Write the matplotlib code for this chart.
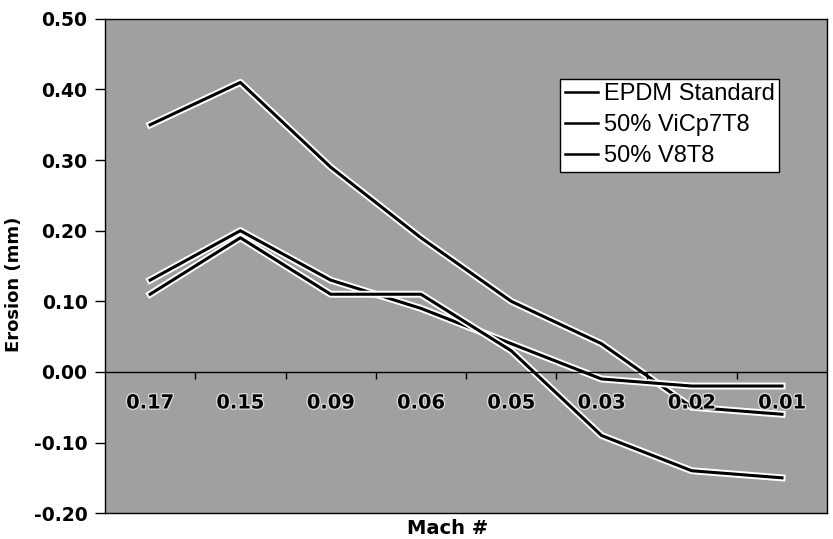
import matplotlib
matplotlib.use("Agg")
import matplotlib.pyplot as plt
import matplotlib.patheffects as pe

plt.rcParams["font.family"] = ["DejaVu Sans"]

mach = ["0.17", "0.15", "0.09", "0.06", "0.05", "0.03", "0.02", "0.01"]
epdm_standard = [0.35, 0.41, 0.29, 0.19, 0.10, 0.04, -0.05, -0.06]
vicp7t8 = [0.13, 0.20, 0.13, 0.09, 0.04, -0.01, -0.02, -0.02]
v8t8 = [0.11, 0.19, 0.11, 0.11, 0.03, -0.09, -0.14, -0.15]
series_names = ["EPDM Standard", "50% ViCp7T8", "50% V8T8"]

fig = plt.figure(figsize=(8.33, 5.39), dpi=100)
ax = fig.add_axes([0.126, 0.048, 0.867, 0.917])
ax.set_facecolor("#a0a0a0")

x = range(len(mach))
halo = [pe.Stroke(linewidth=5, foreground="white"), pe.Normal()]
for vals, name in zip([epdm_standard, vicp7t8, v8t8], series_names):
    ax.plot(x, vals, color="black", lw=2.2, label=name, path_effects=halo)

ax.set_xlim(-0.5, len(mach) - 0.5)
ax.set_ylim(-0.20, 0.50)
ax.set_yticks([-0.2, -0.1, 0.0, 0.1, 0.2, 0.3, 0.4, 0.5])
ax.set_yticklabels([f"{v:.2f}" for v in ax.get_yticks()],
                   fontsize=13.5, fontweight="bold")
ax.tick_params(axis="y", length=7, width=1, pad=5.5)
ax.set_xticks([])

# zero axis line with ticks between categories, labels inside plot
ax.axhline(0, color="black", lw=1)
for i in range(len(mach) - 1):
    ax.plot(i + 0.5, 0, marker=3, color="black", ms=5, mew=1)
for i, lab in enumerate(mach):
    ax.text(i, -0.044, lab, ha="center", va="center", fontsize=14,
            fontweight="bold",
            path_effects=[pe.withStroke(linewidth=2, foreground="#d8d8d8")])

for s in ax.spines.values():
    s.set_color("black")
    s.set_linewidth(1)

ax.set_ylabel("Erosion (mm)", fontsize=13, fontweight="bold")
ax.yaxis.set_label_coords(-0.114, 0.462)
fig.text(0.537, 0.019, "Mach #", ha="center", va="center",
         fontsize=14, fontweight="bold")

leg = ax.legend(loc="upper left", bbox_to_anchor=(0.630, 0.879),
                prop={"family": "Liberation Sans", "size": 17},
                frameon=True, fancybox=False,
                handlelength=1.4, handletextpad=0.25, borderpad=0.2,
                labelspacing=0.38, borderaxespad=0)
leg.get_frame().set_edgecolor("black")
leg.get_frame().set_facecolor("white")
leg.get_frame().set_alpha(1)
leg.get_frame().set_linewidth(1)
for line in leg.get_lines():
    line.set_path_effects([])
    line.set_linewidth(1.8)

fig.savefig("out.png", dpi=100)
